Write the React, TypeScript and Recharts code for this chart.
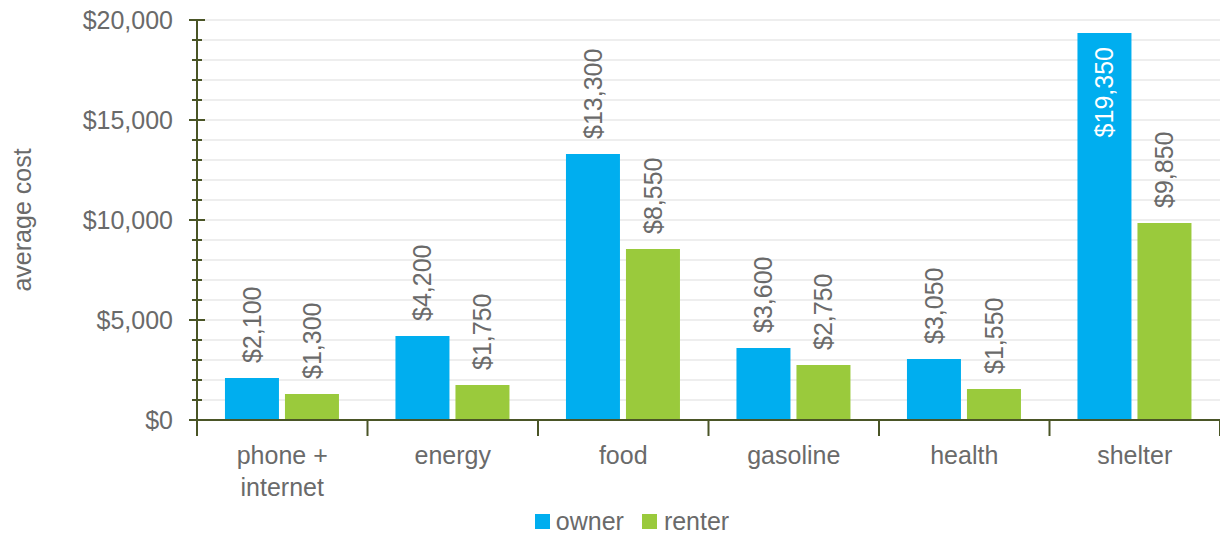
import { BarChart, Bar, XAxis, YAxis, CartesianGrid, Legend, LabelList } from "recharts";

const categories = ["phone +\ninternet", "energy", "food", "gasoline", "health", "shelter"];
const owner = [2100, 4200, 13300, 3600, 3050, 19350];
const renter = [1300, 1750, 8550, 2750, 1550, 9850];
const yTicks = [0, 1000, 2000, 3000, 4000, 5000, 6000, 7000, 8000, 9000, 10000, 11000, 12000, 13000, 14000, 15000, 16000, 17000, 18000, 19000, 20000];

const data = categories.map((name, i) => ({ name, owner: owner[i], renter: renter[i] }));

const FONT = "'Liberation Sans', Arial, sans-serif";
const AXIS = "#4a5526";
const TEXT = "#6a6a6a";
const BLUE = "#00aeef";
const GREEN = "#9aca3c";
const BAND = (1220 - 197) / 6;

const money = (v: number) => "$" + v.toLocaleString("en-US");

function YTick(props: any) {
  const { x, y, payload } = props;
  const major = payload.value % 5000 === 0;
  return (
    <g>
      <line x1={x - (major ? 8 : 5)} x2={x + (major ? 8 : 5)} y1={y} y2={y} stroke={AXIS} strokeWidth={2} />
      {major && (
        <text x={x - 24} y={y} dy={9} textAnchor="end" fill={TEXT} fontSize={25} fontFamily={FONT}>
          {money(payload.value)}
        </text>
      )}
    </g>
  );
}

function XTick(props: any) {
  const { x, y, payload, index } = props;
  const lines = String(payload.value).split("\n");
  return (
    <g>
      <line x1={x - BAND / 2} x2={x - BAND / 2} y1={y - 9} y2={y + 8} stroke={AXIS} strokeWidth={2} />
      {index === categories.length - 1 && (
        <line x1={x + BAND / 2} x2={x + BAND / 2} y1={y - 9} y2={y + 8} stroke={AXIS} strokeWidth={2} />
      )}
      {lines.map((l, i) => (
        <text key={i} x={x} y={y + 36 + i * 32} textAnchor="middle" fill={TEXT} fontSize={25} fontFamily={FONT}>
          {l}
        </text>
      ))}
    </g>
  );
}

function BarLabel(props: any) {
  const { x, y, width, value } = props;
  const cx = x + width / 2 + 9;
  const inside = value > 18000;
  const ty = inside ? y + 14 : y - 15;
  return (
    <text
      x={cx}
      y={ty}
      transform={`rotate(-90 ${cx} ${ty})`}
      textAnchor={inside ? "end" : "start"}
      fill={inside ? "#ffffff" : TEXT}
      fontSize={25}
      fontFamily={FONT}
    >
      {money(value)}
    </text>
  );
}

function LegendBox() {
  return (
    <div
      style={{
        display: "flex",
        justifyContent: "center",
        fontFamily: FONT,
        fontSize: 25,
        lineHeight: "28px",
        color: TEXT,
        paddingLeft: 44,
        paddingTop: 2,
      }}
    >
      <span style={{ display: "flex", alignItems: "center", marginRight: 18 }}>
        <span style={{ width: 15, height: 15, background: BLUE, marginRight: 6 }} />
        owner
      </span>
      <span style={{ display: "flex", alignItems: "center" }}>
        <span style={{ width: 15, height: 15, background: GREEN, marginRight: 7 }} />
        renter
      </span>
    </div>
  );
}

export default function App() {
  return (
    <div style={{ position: "absolute", left: 0, top: 0, width: 1220, height: 535, background: "#fff" }}>
      <BarChart width={1220} height={535} data={data} margin={{ top: 20, right: 0, left: 0, bottom: 0 }} barCategoryGap="16.4%" barGap={6}>
        <CartesianGrid vertical={false} stroke="#eeeeee" strokeWidth={2} />
        <XAxis
          dataKey="name"
          height={85}
          axisLine={{ stroke: AXIS, strokeWidth: 2 }}
          tickLine={false}
          tick={<XTick />}
          interval={0}
        />
        <YAxis
          width={197}
          domain={[0, 20000]}
          ticks={yTicks}
          interval={0}
          tickSize={0}
          tickMargin={0}
          tickLine={false}
          axisLine={{ stroke: AXIS, strokeWidth: 2 }}
          tick={<YTick />}
          label={(p: any) => (
            <text
              x={31}
              y={p.viewBox.y + p.viewBox.height / 2}
              transform={`rotate(-90 31 ${p.viewBox.y + p.viewBox.height / 2})`}
              textAnchor="middle"
              fill={TEXT}
              fontSize={25}
              fontFamily={FONT}
            >
              average cost
            </text>
          )}
        />
        <Legend verticalAlign="bottom" height={30} content={<LegendBox />} />
        <Bar dataKey="owner" fill={BLUE} isAnimationActive={false}>
          <LabelList dataKey="owner" content={<BarLabel />} />
        </Bar>
        <Bar dataKey="renter" fill={GREEN} isAnimationActive={false}>
          <LabelList dataKey="renter" content={<BarLabel />} />
        </Bar>
      </BarChart>
    </div>
  );
}
